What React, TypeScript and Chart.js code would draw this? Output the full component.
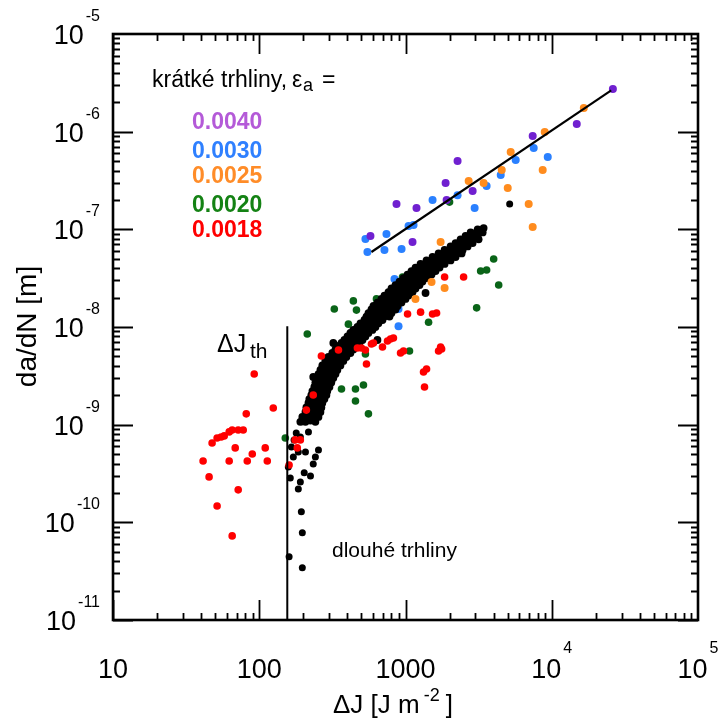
import React, { useEffect, useRef } from "react";
import { Chart, registerables } from "chart.js";

Chart.register(...registerables);

const FONT = "'Liberation Sans', Arial, Helvetica, sans-serif";

// axis ranges and tick labels
const X_MIN = 10;
const X_MAX = 1e5;
const Y_MIN = 1e-11;
const Y_MAX = 1e-5;
const xTickValues = [10, 100, 1000, 1e4, 1e5];
const xTickBase = ["10", "100", "1000", "10", "10"];
const xTickExp = ["", "", "", "4", "5"];
const yTickValues = [1e-11, 1e-10, 1e-9, 1e-8, 1e-7, 1e-6, 1e-5];
const yTickBase = ["10", "10", "10", "10", "10", "10", "10"];
const yTickExp = ["-11", "-10", "-9", "-8", "-7", "-6", "-5"];

// series labels
const seriesLabels = ["0.0040", "0.0030", "0.0025", "0.0020", "0.0018"];

// short cracks, eps_a = 0.0040 (violet)
const eps0040: [number, number][] = [
  [26180, 2.73e-6], [14830, 1.2e-6], [7406, 9.02e-7], [2270, 5.0e-7], [1880, 2.98e-7],
  [1910, 2.0e-7], [2877, 2.47e-7], [868, 1.82e-7], [1189, 1.65e-7], [576, 8.55e-8],
  [1117, 7.42e-8],
];

// eps_a = 0.0030 (blue)
const eps0030: [number, number][] = [
  [7527, 6.8e-7], [9390, 5.5e-7], [5667, 5.12e-7], [4478, 3.6e-7], [3586, 2.78e-7],
  [2270, 2.24e-7], [1531, 2.0e-7], [2970, 1.65e-7], [1135, 1.11e-7], [1049, 1.08e-7],
  [741, 8.96e-8], [532, 7.96e-8], [549, 5.86e-8], [718, 6.14e-8], [940, 6.29e-8],
  [841, 3.1e-8], [896, 1.53e-8], [896, 1.02e-8],
];

// eps_a = 0.0025 (orange)
const eps0025: [number, number][] = [
  [16560, 1.75e-6], [8956, 9.92e-7], [5239, 6.19e-7], [4550, 4.05e-7], [8671, 4.05e-7],
  [2703, 3.12e-7], [3421, 2.98e-7], [5000, 2.65e-7], [6954, 1.82e-7], [7406, 1.055e-7],
  [1738, 7.42e-8], [1851, 2.51e-8], [1507, 2.89e-8], [1170, 1.94e-8],
];

// eps_a = 0.0020 (green)
const eps0020: [number, number][] = [
  [150.7, 7.31e-10], [365, 2.32e-9], [455, 2.32e-9], [455, 1.75e-9], [516, 2.55e-9],
  [558, 1.29e-9], [302, 4.08e-9], [532, 5.3e-9], [1065, 5.68e-9], [213, 8.49e-9],
  [326, 1.53e-8], [440, 1.85e-8], [462, 1.49e-8], [633, 1.94e-8], [954, 3.25e-8],
  [1438, 1.12e-8], [3065, 1.57e-8], [4008, 4.97e-8], [3586, 3.83e-8], [3264, 3.74e-8],
  [4337, 2.69e-8], [2001, 1.9e-7], [407, 1.07e-8],
];

// eps_a = 0.0018 (red)
const eps0018: [number, number][] = [
  [41.3, 4.25e-10], [45.4, 2.92e-10], [51.5, 1.47e-10], [47.6, 6.5e-10], [51.5, 7.31e-10],
  [54.9, 7.49e-10], [57.6, 7.67e-10], [62.3, 8.43e-10], [65.3, 8.83e-10], [71.8, 8.83e-10],
  [77.7, 8.83e-10], [81.5, 1.29e-9], [124.7, 1.48e-9], [68.5, 5.78e-10], [62.3, 4.25e-10],
  [71.8, 2.15e-10], [65.3, 7.26e-11], [82.8, 4.25e-10], [89.6, 5.01e-10], [109.9, 5.78e-10],
  [113.5, 4.25e-10], [92.4, 3.3e-9], [160, 3.87e-10], [176, 6.98e-10], [191, 6.98e-10],
  [182, 5.78e-10], [210, 1.41e-9], [234, 2.01e-9], [266, 5.05e-9], [348, 5.82e-9],
  [500, 6.1e-9], [532, 5.82e-9], [541, 4.18e-9], [585, 6.7e-9], [696, 6.25e-9],
  [753, 7.19e-9], [789, 7.54e-9], [827, 7.72e-9], [925, 5.42e-9], [969, 5.68e-9],
  [1033, 1.36e-8], [1268, 1.42e-8], [1531, 1.36e-8], [1631, 1.39e-8], [1683, 5.68e-9],
  [1738, 6.25e-9], [1766, 5.96e-9], [1393, 3.72e-9], [1328, 3.46e-9], [1349, 2.43e-9],
  [1851, 3.25e-8], [2496, 3.25e-8], [469, 6.1e-9], [604, 6.86e-9],
];

// long cracks (black), near-threshold scatter
const longLow: [number, number][] = [
  [160, 4.43e-11], [197, 3.42e-11], [197, 7.8e-11], [194, 1.28e-10], [185, 2.2e-10],
  [191, 2.59e-10], [203, 3.21e-10], [224, 2.99e-10], [234, 3.96e-10], [207, 5.26e-10],
  [163, 2.85e-10], [158, 3.69e-10], [166, 5.92e-10], [179, 8.23e-10], [197, 1.07e-9],
  [217, 8.43e-10], [231, 1.12e-9], [234, 1.32e-9], [250, 1.67e-9], [262, 1.35e-9],
  [171, 4.67e-10], [185, 5.26e-10], [242, 4.67e-10], [254, 5.51e-10], [173, 6.98e-10],
  [191, 7.49e-10], [5155, 1.82e-7],
];

// long cracks (black), main band
const longBand: [number, number][] = [
  [191, 1.07e-9], [207, 1.07e-9], [224, 1.1e-9], [242, 1.07e-9],
  [197, 1.2e-9], [217, 1.2e-9], [234, 1.2e-9], [254, 1.2e-9],
  [207, 1.35e-9], [224, 1.35e-9], [246, 1.38e-9], [262, 1.35e-9],
  [210, 1.5e-9], [227, 1.5e-9], [246, 1.5e-9], [266, 1.5e-9],
  [217, 1.67e-9], [234, 1.67e-9], [254, 1.7e-9], [270, 1.67e-9],
  [220, 1.83e-9], [238, 1.83e-9], [258, 1.83e-9], [279, 1.83e-9],
  [227, 2.01e-9], [246, 2.01e-9], [266, 2.05e-9], [288, 2.01e-9],
  [231, 2.21e-9], [250, 2.21e-9], [270, 2.21e-9], [292, 2.21e-9],
  [238, 2.43e-9], [258, 2.43e-9], [279, 2.45e-9], [302, 2.43e-9],
  [242, 2.7e-9], [262, 2.7e-9], [288, 2.7e-9], [311, 2.7e-9],
  [250, 3.01e-9], [270, 3.01e-9], [297, 3.05e-9], [321, 3.01e-9],
  [254, 3.3e-9], [279, 3.3e-9], [306, 3.3e-9], [332, 3.3e-9],
  [262, 3.63e-9], [288, 3.63e-9], [316, 3.7e-9], [342, 3.63e-9],
  [270, 4.04e-9], [297, 4.04e-9], [326, 4.04e-9], [359, 4.04e-9],
  [283, 4.49e-9], [311, 4.49e-9], [342, 4.55e-9], [376, 4.49e-9],
  [297, 4.93e-9], [326, 4.93e-9], [359, 4.93e-9], [394, 4.93e-9],
  [316, 5.42e-9], [348, 5.42e-9], [382, 5.5e-9], [420, 5.42e-9],
  [332, 5.89e-9], [365, 5.89e-9], [401, 5.89e-9], [440, 5.89e-9],
  [348, 6.39e-9], [382, 6.39e-9], [420, 6.45e-9], [462, 6.39e-9],
  [365, 6.86e-9], [401, 6.86e-9], [440, 6.86e-9], [484, 6.86e-9],
  [382, 7.36e-9], [420, 7.36e-9], [462, 7.45e-9], [508, 7.36e-9],
  [401, 8.0e-9], [440, 8.0e-9], [484, 8.0e-9], [532, 8.0e-9],
  [420, 8.69e-9], [462, 8.69e-9], [508, 8.8e-9], [558, 8.69e-9],
  [440, 9.33e-9], [492, 9.33e-9], [541, 9.33e-9], [594, 9.33e-9],
  [469, 1.0e-8], [516, 1.0e-8], [567, 1.02e-8], [623, 1.0e-8],
  [492, 1.09e-8], [541, 1.09e-8], [594, 1.09e-8], [653, 1.09e-8],
  [524, 1.18e-8], [576, 1.18e-8], [633, 1.2e-8], [696, 1.18e-8],
  [541, 1.28e-8], [594, 1.28e-8], [653, 1.28e-8], [718, 1.28e-8], [777, 1.28e-8],
  [558, 1.39e-8], [613, 1.39e-8], [674, 1.41e-8], [741, 1.39e-8], [802, 1.39e-8],
  [585, 1.51e-8], [643, 1.51e-8], [707, 1.51e-8], [777, 1.51e-8], [854, 1.51e-8],
  [604, 1.64e-8], [664, 1.64e-8], [730, 1.66e-8], [802, 1.64e-8], [882, 1.64e-8],
  [643, 1.78e-8], [707, 1.78e-8], [777, 1.78e-8], [854, 1.78e-8], [939, 1.78e-8],
  [685, 1.94e-8], [753, 1.94e-8], [828, 1.96e-8], [910, 1.94e-8], [1000, 1.94e-8],
  [718, 2.1e-8], [789, 2.1e-8], [868, 2.1e-8], [954, 2.1e-8], [1049, 2.1e-8],
  [765, 2.28e-8], [841, 2.28e-8], [924, 2.3e-8], [1016, 2.28e-8], [1117, 2.28e-8],
  [802, 2.48e-8], [882, 2.48e-8], [969, 2.48e-8], [1065, 2.48e-8], [1171, 2.48e-8],
  [854, 2.69e-8], [939, 2.69e-8], [1032, 2.72e-8], [1135, 2.69e-8], [1247, 2.69e-8],
  [910, 2.92e-8], [1000, 2.92e-8], [1099, 2.92e-8], [1208, 2.92e-8], [1307, 2.92e-8],
  [969, 3.17e-8], [1065, 3.17e-8], [1171, 3.2e-8], [1287, 3.17e-8], [1392, 3.17e-8],
  [1032, 3.44e-8], [1135, 3.44e-8], [1247, 3.44e-8], [1371, 3.44e-8], [1507, 3.44e-8],
  [1099, 3.74e-8], [1208, 3.74e-8], [1328, 3.78e-8], [1460, 3.74e-8], [1605, 3.74e-8],
  [1171, 4.06e-8], [1287, 4.06e-8], [1415, 4.06e-8], [1555, 4.06e-8], [1710, 4.06e-8],
  [1267, 4.42e-8], [1392, 4.42e-8], [1531, 4.46e-8], [1683, 4.42e-8], [1850, 4.42e-8],
  [1392, 4.8e-8], [1531, 4.8e-8], [1683, 4.8e-8], [1850, 4.8e-8], [2033, 4.8e-8],
  [1531, 5.21e-8], [1683, 5.21e-8], [1850, 5.25e-8], [2033, 5.21e-8], [2200, 5.21e-8],
  [1683, 5.66e-8], [1850, 5.66e-8], [2033, 5.66e-8], [2235, 5.66e-8], [2419, 5.66e-8],
  [1850, 6.14e-8], [2033, 6.14e-8], [2235, 6.2e-8], [2457, 6.14e-8],
  [2033, 6.69e-8], [2235, 6.69e-8], [2457, 6.69e-8], [2659, 6.69e-8],
  [2200, 7.24e-8], [2419, 7.24e-8], [2659, 7.3e-8], [2877, 7.24e-8],
  [2381, 7.9e-8], [2617, 7.9e-8], [2877, 7.9e-8], [3162, 7.9e-8],
  [2576, 8.55e-8], [2832, 8.55e-8], [3114, 8.6e-8],
  [2788, 9.3e-8], [3065, 9.3e-8], [3369, 9.3e-8],
  [3114, 1.0e-7], [3421, 1.03e-7],
  [234, 3.08e-9], [321, 6.86e-9], [643, 7.36e-9], [1371, 2.23e-8],
];

// fitted line for short cracks
const fitLine: [number, number][] = [[585, 5.86e-8], [25500, 2.65e-6]];
// threshold Delta J_th
const thresholdLine: [number, number][] = [[155.5, 1.02e-8], [155.5, 1e-11]];

const toXY = (arr: [number, number][]) => arr.map(([x, y]) => ({ x, y }));

function drawFrame(chart: any) {
  const { ctx, chartArea: a, scales } = chart;
  const xs = scales.x;
  const ys = scales.y;
  ctx.save();
  ctx.strokeStyle = "#000";
  ctx.lineCap = "butt";
  ctx.lineWidth = 1.8;
  for (let d = 1; d < 5; d++) {
    for (let m = 1; m <= 9; m++) {
      const v = m * Math.pow(10, d);
      const px = Math.round(xs.getPixelForValue(v)) + 0.5;
      const len = m === 1 ? 20 : 7;
      ctx.beginPath();
      ctx.moveTo(px, a.bottom);
      ctx.lineTo(px, a.bottom - len);
      ctx.moveTo(px, a.top);
      ctx.lineTo(px, a.top + len);
      ctx.stroke();
    }
  }
  for (let d = -11; d < -5; d++) {
    for (let m = 1; m <= 9; m++) {
      const v = m * Math.pow(10, d);
      const py = Math.round(ys.getPixelForValue(v)) + 0.5;
      const len = m === 1 ? 20 : 7;
      ctx.beginPath();
      ctx.moveTo(a.left, py);
      ctx.lineTo(a.left + len, py);
      ctx.moveTo(a.right, py);
      ctx.lineTo(a.right - len, py);
      ctx.stroke();
    }
  }
  ctx.lineWidth = 2.6;
  ctx.strokeRect(a.left, a.top, a.right - a.left, a.bottom - a.top);

  ctx.fillStyle = "#000";
  ctx.textBaseline = "alphabetic";
  yTickValues.forEach((v, i) => {
    const py = ys.getPixelForValue(v);
    ctx.font = `16px ${FONT}`;
    const we = ctx.measureText(yTickExp[i]).width;
    ctx.font = `27px ${FONT}`;
    const wb = ctx.measureText(yTickBase[i]).width;
    const R = 100;
    ctx.textAlign = "left";
    ctx.font = `16px ${FONT}`;
    ctx.fillText(yTickExp[i], R - we, py - 13);
    ctx.font = `27px ${FONT}`;
    ctx.fillText(yTickBase[i], R - we - 2 - wb, py + 10);
  });
  xTickValues.forEach((v, i) => {
    const px = xs.getPixelForValue(v);
    ctx.font = `27px ${FONT}`;
    const wb = ctx.measureText(xTickBase[i]).width;
    ctx.font = `16px ${FONT}`;
    const we = xTickExp[i] ? ctx.measureText(xTickExp[i]).width + 2 : 0;
    const start = px - (wb + we) / 2;
    ctx.textAlign = "left";
    ctx.font = `27px ${FONT}`;
    ctx.fillText(xTickBase[i], start, 678);
    if (xTickExp[i]) {
      ctx.font = `16px ${FONT}`;
      ctx.fillText(xTickExp[i], start + wb + 2, 653);
    }
  });

  ctx.font = `26px ${FONT}`;
  const t1 = "\u0394J [J m";
  ctx.fillText(t1, 333, 713);
  const w1 = ctx.measureText(t1).width;
  ctx.font = `18px ${FONT}`;
  ctx.fillText("-2", 333 + w1 + 4, 701);
  const w2 = ctx.measureText("-2").width;
  ctx.font = `26px ${FONT}`;
  ctx.fillText("]", 333 + w1 + 4 + w2 + 6, 713);

  ctx.save();
  ctx.translate(36, 326.5);
  ctx.rotate(-Math.PI / 2);
  ctx.textAlign = "center";
  ctx.font = `28px ${FONT}`;
  ctx.fillText("da/dN [m]", 0, 0);
  ctx.restore();

  ctx.textAlign = "left";
  ctx.font = `23px ${FONT}`;
  ctx.fillText("kr\u00e1tk\u00e9 trhliny,", 152, 87);
  ctx.fillText("\u03b5", 292, 87);
  ctx.font = `18px ${FONT}`;
  ctx.fillText("a", 303, 91);
  ctx.font = `23px ${FONT}`;
  ctx.fillText("=", 322, 87);

  const labelColors = ["#b45ad8", "#2f80ff", "#ff8c28", "#148214", "#ff0000"];
  const labelBase = [129, 158, 183, 212, 237];
  ctx.font = `bold 23px ${FONT}`;
  seriesLabels.forEach((s, i) => {
    ctx.fillStyle = labelColors[i];
    ctx.fillText(s, 192, labelBase[i]);
  });

  ctx.fillStyle = "#000";
  ctx.font = `25px ${FONT}`;
  ctx.fillText("\u0394J", 217, 352);
  ctx.font = `21px ${FONT}`;
  ctx.fillText("th", 250, 358);
  ctx.fillText("dlouh\u00e9 trhliny", 332, 557);
  ctx.restore();
}

const framePlugin = {
  id: "framePlugin",
  afterDatasetsDraw(chart: any) {
    drawFrame(chart);
  },
};

export default function App() {
  const ref = useRef<HTMLCanvasElement | null>(null);
  useEffect(() => {
    if (!ref.current) return;
    const pt = (data: [number, number][], color: string, r: number, order: number) => ({
      data: toXY(data),
      backgroundColor: color,
      borderColor: color,
      borderWidth: 0,
      pointRadius: r,
      pointHoverRadius: r,
      showLine: false,
      order,
    });
    const chart = new Chart(ref.current, {
      type: "scatter",
      data: {
        datasets: [
          {
            data: toXY(fitLine),
            showLine: true,
            borderColor: "#000",
            borderWidth: 2.2,
            pointRadius: 0,
            order: 0,
          } as any,
          {
            data: toXY(thresholdLine),
            showLine: true,
            borderColor: "#000",
            borderWidth: 2,
            pointRadius: 0,
            order: 0,
          } as any,
          pt(eps0018, "#ff0000", 3.8, 1),
          pt(eps0025, "#ff8c1e", 4, 2),
          pt(eps0040, "#7020d0", 4, 3),
          pt(longBand, "#000000", 3.9, 4),
          pt(longLow, "#000000", 3.5, 4),
          pt(eps0030, "#2a80ff", 4, 5),
          pt(eps0020, "#0a6418", 3.8, 6),
        ],
      },
      options: {
        animation: false,
        responsive: false,
        devicePixelRatio: 1,
        events: [],
        layout: { padding: { left: 113, top: 34, right: 20, bottom: 104 } },
        plugins: { legend: { display: false }, tooltip: { enabled: false } },
        scales: {
          x: { type: "logarithmic", min: X_MIN, max: X_MAX, display: false },
          y: { type: "logarithmic", min: Y_MIN, max: Y_MAX, display: false },
        },
      },
      plugins: [framePlugin],
    });
    return () => chart.destroy();
  }, []);
  return (
    <div style={{ position: "absolute", left: 0, top: 0, width: 718, height: 724, background: "#fff" }}>
      <canvas ref={ref} width={718} height={724} style={{ width: 718, height: 724, display: "block" }} />
    </div>
  );
}
